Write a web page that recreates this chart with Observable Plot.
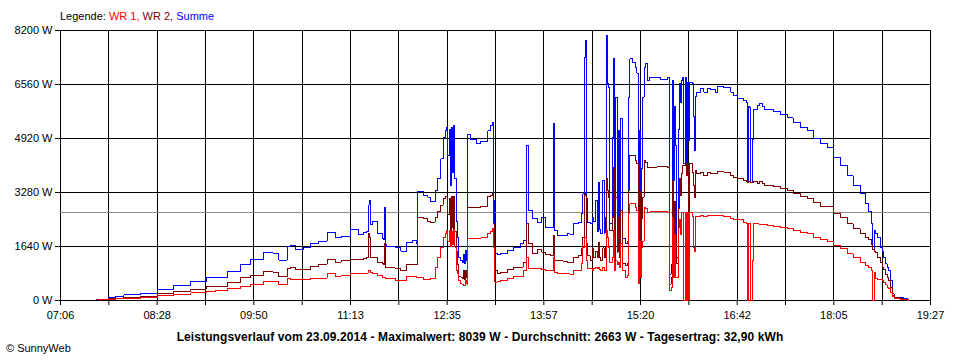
<!DOCTYPE html>
<html><head><meta charset="utf-8">
<script src="https://cdn.jsdelivr.net/npm/d3@7"></script>
<script src="https://cdn.jsdelivr.net/npm/@observablehq/plot@0.6"></script>
<style>
body{margin:0;background:#fff;font-family:"Liberation Sans",Arial,sans-serif;color:#000}
#wrap{position:relative;width:960px;height:360px;overflow:hidden;background:#fff}
#chart{position:absolute;left:0;top:0}
#legend{position:absolute;left:60px;top:10px;font-size:11px;line-height:13px;white-space:nowrap}
#title{position:absolute;left:0;width:960px;top:330px;text-align:center;font-weight:bold;font-size:12px;letter-spacing:0.1px;line-height:14px;white-space:nowrap}
#copy{position:absolute;left:6px;top:342px;font-size:11px;line-height:13px;white-space:nowrap}
</style></head><body>
<div id="wrap">
  <div id="chart"></div>
  <div id="legend">Legende: <span style="color:#ff0000">WR 1,</span> <span style="color:#800000">WR 2,</span> <span style="color:#0000ff">Summe</span></div>
  <div id="title">Leistungsverlauf vom 23.09.2014 - Maximalwert: 8039 W - Durchschnitt: 2663 W - Tagesertrag: 32,90 kWh</div>
  <div id="copy">© SunnyWeb</div>
</div>
<script>
// ---- data ----
const times = [
"07:37","07:47","07:53","08:00","08:14","08:29","08:42","08:57","09:10","09:18",
"09:28","09:39","09:48","09:59","10:07","10:12","10:19","10:22","10:26","10:33",
"10:39","10:46","10:53","11:00","11:05","11:13","11:20","11:24","11:27","11:28",
"11:29","11:30","11:32","11:36","11:40","11:41","11:42","11:43","11:44","11:51",
"11:56","12:01","12:06","12:09","12:10","12:15","12:19","12:21","12:25","12:27",
"12:30","12:32","12:34","12:35","12:36","12:37","12:38","12:39","12:40","12:41",
"12:42","12:43","12:44","12:45","12:47","12:48","12:49","12:50","12:51","12:52",
"12:53","12:55","13:00","13:04","13:10","13:12","13:14","13:15","13:16","13:18",
"13:21","13:27","13:32","13:38","13:40","13:43","13:45","13:48","13:52","13:56",
"13:59","14:03","14:06","14:07","14:09","14:14","14:18","14:20","14:23","14:27",
"14:30","14:31","14:32","14:33","14:34","14:35","14:37","14:39","14:40","14:42",
"14:43","14:44","14:45","14:46","14:48","14:49","14:50","14:51","14:52","14:53",
"14:54","14:56","14:57","14:58","14:59","15:00","15:01","15:02","15:03","15:05",
"15:07","15:09","15:10","15:11","15:13","15:16","15:17","15:18","15:19","15:20",
"15:21","15:22","15:23","15:24","15:26","15:28","15:34","15:37","15:43","15:45",
"15:46","15:47","15:48","15:49","15:50","15:51","15:52","15:53","15:54","15:55",
"15:56","15:57","15:58","15:59","16:00","16:01","16:02","16:04","16:05","16:06",
"16:07","16:08","16:11","16:14","16:17","16:20","16:24","16:26","16:31","16:37",
"16:39","16:43","16:48","16:50","16:51","16:52","16:53","16:54","16:55","16:56",
"17:00","17:01","17:04","17:06","17:08","17:13","17:19","17:25","17:30","17:36",
"17:42","17:47","17:53","17:59","18:04","18:10","18:16","18:21","18:27","18:32",
"18:34","18:37","18:38","18:39","18:40","18:42","18:44","18:46","18:47","18:49",
"18:50","18:51","18:53","18:55","18:56","19:01","19:04","19:07","19:08"
];
const wr1 = [
20,30,50,70,100,140,180,230,270,290,
350,425,480,570,575,475,660,650,640,640,
660,680,810,740,760,830,820,810,830,900,
910,850,820,760,710,700,700,680,660,620,
610,730,720,710,710,640,650,660,1010,1300,
1620,1900,2025,2125,1800,2125,1650,2100,1700,2150,
1620,900,810,600,505,480,455,470,610,500,
1870,1870,1870,1900,2025,2100,2175,1620,560,580,
610,680,720,730,910,1315,960,960,960,940,
900,910,1315,860,830,810,810,790,910,910,
1115,1620,1925,1925,1215,960,960,900,960,1000,
960,1000,950,900,1000,920,900,2125,1900,1620,
1150,1300,2125,900,1200,1100,1150,1000,1720,900,
710,750,2635,2935,2935,2830,2735,505,1800,710,
1620,1800,2835,2800,2685,2690,2690,2690,2685,300,
400,2530,700,2000,700,700,2200,2450,2000,2685,
2685,0,2685,0,2685,0,2685,2550,1620,1500,
2550,2550,2580,2560,2570,2570,2575,2580,2560,2480,
2470,2450,2380,2350,0,2350,2340,0,1215,2330,
2330,2320,2300,2300,2280,2245,2230,2175,2120,2075,
2040,1925,1860,1800,1670,1570,1420,1315,1165,1050,
990,900,0,860,660,650,640,610,550,480,
405,350,250,120,50,40,20,10,10
];
const wr2 = [
20,50,70,100,120,200,285,345,425,420,
540,690,760,870,860,730,980,1000,930,930,
1030,1100,1245,1165,1200,1235,1250,1265,1300,2025,
1900,1320,1315,1150,1115,1100,1720,1000,990,965,
910,1095,1080,1095,2530,2480,2400,2380,2530,2700,
2900,3100,3160,3160,2600,3100,1900,3150,2200,3160,
2100,1500,1100,720,710,680,900,650,910,700,
2835,2835,2835,2850,3150,3200,3240,2330,910,830,
850,930,990,1010,1165,2330,1720,1420,1540,1470,
1400,1365,1975,1215,1200,1190,1165,1165,1315,1365,
1570,1925,3240,3200,1720,1365,1215,1570,1300,1500,
1300,1775,1300,1200,1600,1300,1600,3695,3340,3140,
2125,2530,4050,1115,3140,1470,2530,1300,2735,1115,
1065,1115,3340,4405,4405,4250,4150,965,3300,1115,
2500,3140,4250,4200,4050,4050,4060,4080,4050,500,
700,3645,1600,3000,2000,1115,2800,3700,3200,3850,
4100,4100,4150,3800,4100,400,4150,3900,3500,3140,
3950,3850,3900,3800,3880,3860,3850,3930,3900,3800,
3750,3695,3640,3600,3595,3600,3600,3590,3590,3600,
3560,3620,3550,3490,3500,3450,3390,3340,3240,3160,
3110,2985,2860,2840,2650,2530,2330,2175,2045,1920,
1840,1700,1540,1500,1450,1315,1150,1010,950,800,
710,600,405,150,80,50,40,20,20
];
const summe = [
40,80,130,170,220,340,460,575,695,705,
890,1100,1250,1450,1430,1230,1630,1680,1560,1600,
1720,1800,2070,1900,1950,2150,1990,2075,2100,2900,
3040,2300,2400,2025,1870,1850,2815,1700,1640,1620,
1500,1770,1820,1740,3320,3185,3140,3005,3340,3700,
4300,4960,5160,5250,4400,5200,3500,5250,3900,5315,
3700,2400,1900,1320,1215,1165,1400,1120,1520,1200,
5050,4900,4760,4830,5150,5330,5400,3040,1420,1400,
1420,1520,1620,1720,1825,4700,2735,2480,2360,2530,
2225,2225,5365,2125,1975,1960,2025,2000,2330,2380,
2635,3240,7390,7900,3100,2380,2330,2530,2400,3040,
2100,3590,2150,2025,3640,2050,2530,8039,6580,6480,
2330,4960,7340,1925,6175,2125,5160,1925,5520,1875,
1720,1800,6175,7340,7240,7085,6900,1315,5160,1315,
4000,6175,7085,7185,6680,6780,6780,6700,6780,800,
1100,6680,3645,5900,4700,1315,5200,6580,6000,6680,
6780,4150,6780,4000,6630,4860,6630,6580,5600,4555,
6200,6330,6430,6330,6430,6400,6330,6500,6470,6330,
6225,6150,6075,6000,3595,5900,5850,3595,4900,5790,
5920,5975,5900,5800,5790,5740,5640,5545,5400,5265,
5160,4910,4760,4635,4355,4100,3795,3490,3240,2935,
2700,2330,1540,2125,2050,1925,1620,1500,1315,1115,
1000,910,610,200,100,90,60,40,40
];
const average = 2663;
const yTicks = [0, 1640, 3280, 4920, 6560, 8200];
const xTickLabels = ["07:06","08:28","09:50","11:13","12:35","13:57","15:20","16:42","18:05","19:27"];
const seriesColors = {wr1: "#ff0000", wr2: "#800000", summe: "#0000ff"};

// ---- build ----
const parse = d3.utcParse("%H:%M");
const start = parse(xTickLabels[0]);
const end = parse(xTickLabels[xTickLabels.length - 1]);
const nGrid = (xTickLabels.length - 1) * 2;
const gridTimes = d3.range(nGrid + 1).map(i => new Date(+start + i * (end - start) / nGrid));
const labelOf = new Map(gridTimes.map((d, i) => [+d, i % 2 === 0 ? xTickLabels[i / 2] : ""]));
const rows = times.map((t, i) => ({t: parse(t), wr1: wr1[i], wr2: wr2[i], summe: summe[i]}));

const chart = Plot.plot({
  width: 960,
  height: 330,
  marginTop: 30,
  marginBottom: 30,
  marginLeft: 60,
  marginRight: 30,
  style: {fontFamily: "'Liberation Sans', Arial, sans-serif", fontSize: "11px", color: "#000", background: "transparent"},
  x: {type: "utc", domain: [start, end]},
  y: {domain: [0, 8200]},
  marks: [
    Plot.ruleX(gridTimes, {stroke: "#000", strokeWidth: 1, shapeRendering: "crispEdges"}),
    Plot.ruleY(yTicks, {stroke: "#000", strokeWidth: 1, shapeRendering: "crispEdges"}),
    Plot.ruleY([average], {stroke: "#8c8c8c", strokeWidth: 1, shapeRendering: "crispEdges"}),
    Plot.line(rows, {x: "t", y: "summe", stroke: seriesColors.summe, strokeWidth: 1, curve: "step-after", shapeRendering: "crispEdges"}),
    Plot.line(rows, {x: "t", y: "wr2", stroke: seriesColors.wr2, strokeWidth: 1, curve: "step-after", shapeRendering: "crispEdges"}),
    Plot.line(rows, {x: "t", y: "wr1", stroke: seriesColors.wr1, strokeWidth: 1, curve: "step-after", shapeRendering: "crispEdges"}),
    Plot.axisX(gridTimes, {tickSize: 5, tickPadding: 6, tickFormat: d => labelOf.get(+d), label: null, stroke: "#000"}),
    Plot.axisY(yTicks, {tickSize: 5, tickPadding: 3, tickFormat: d => d + " W", label: null, stroke: "#000"})
  ]
});
document.getElementById("chart").appendChild(chart);
</script>
</body></html>
